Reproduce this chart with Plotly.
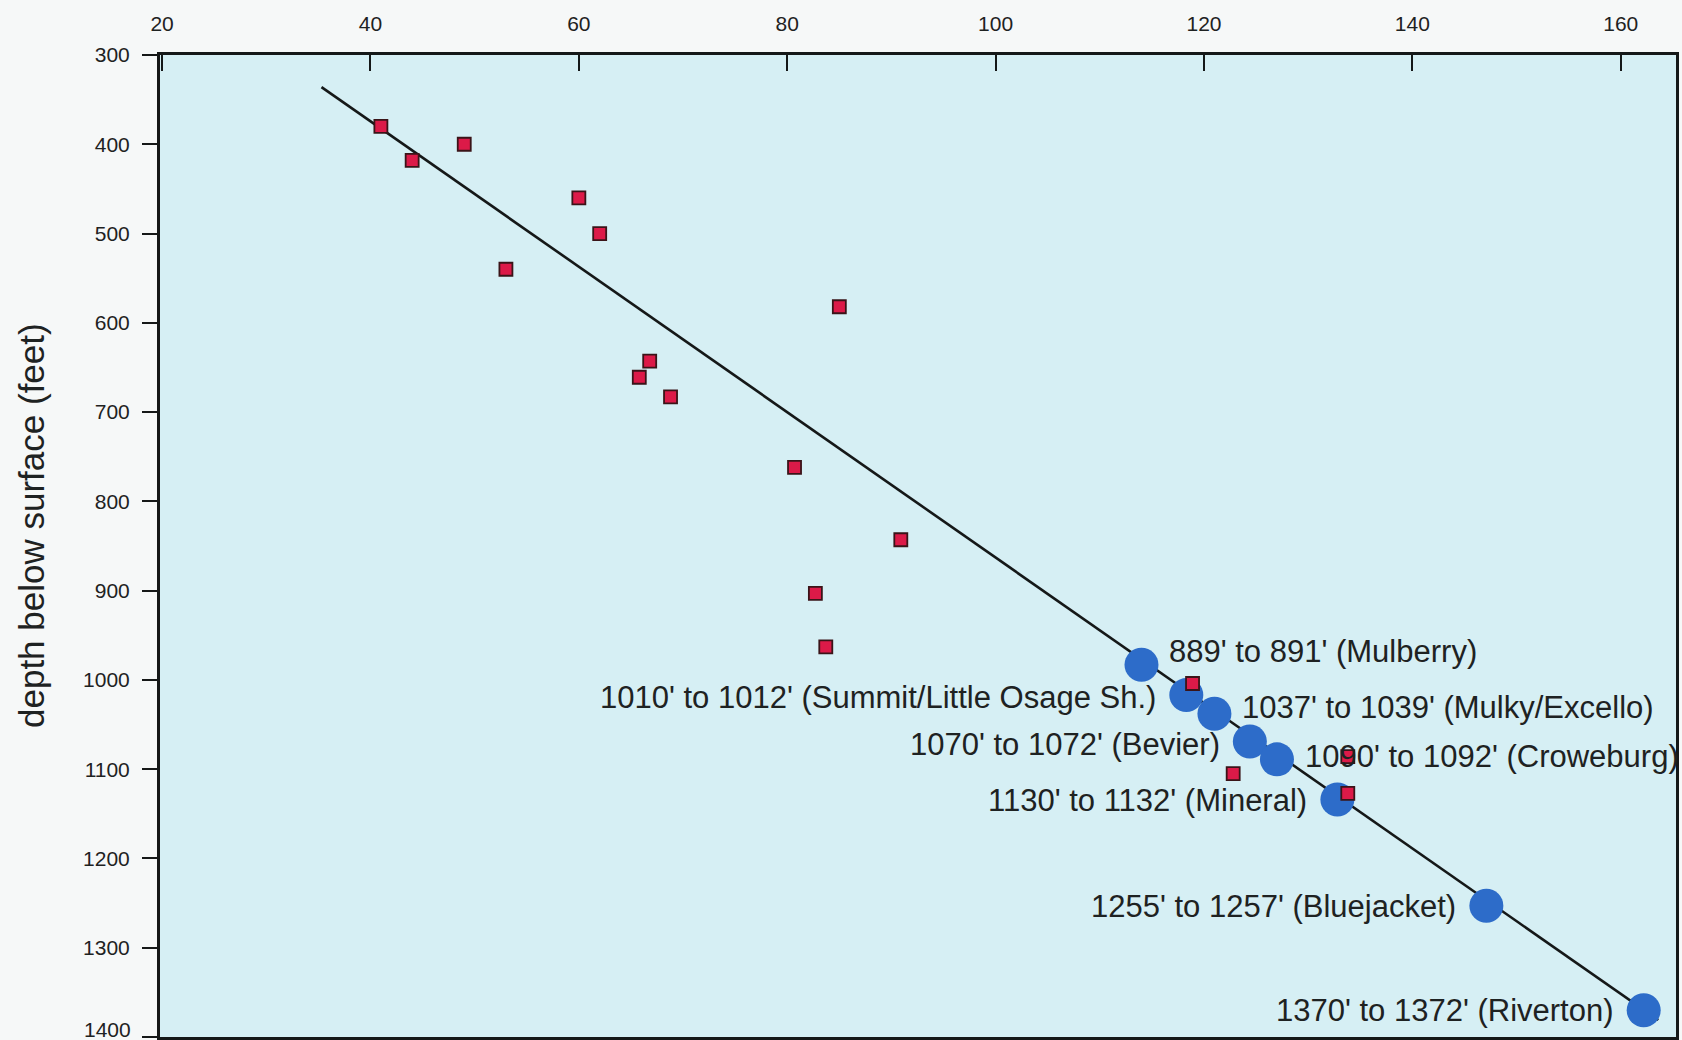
import plotly.graph_objects as go

# ---- data ----
sample_x = [41, 44, 49, 60, 62, 53, 85, 66.8, 65.8, 68.8, 80.7, 90.9, 82.7, 83.7, 118.9, 122.8, 133.8, 133.8]
sample_depth = [380, 418, 400, 460, 500, 540, 582, 643, 661, 683, 762, 843, 903, 963, 1004, 1105, 1086, 1127]

coal_x = [114.0, 118.3, 121.0, 124.4, 127.0, 132.8, 147.1, 162.2]
coal_depth = [983, 1017, 1038, 1069, 1089, 1134, 1253, 1370]
coal_labels = [
    "889' to 891' (Mulberry)",
    "1010' to 1012' (Summit/Little Osage Sh.)",
    "1037' to 1039' (Mulky/Excello)",
    "1070' to 1072' (Bevier)",
    "1090' to 1092' (Croweburg)",
    "1130' to 1132' (Mineral)",
    "1255' to 1257' (Bluejacket)",
    "1370' to 1372' (Riverton)",
]
label_side = ["right", "left", "right", "left", "right", "left", "left", "left"]
label_lift = [13, -2, 6, -3, 3, -1, -1, 0]

trend_x = [35.3, 163.6]
trend_depth = [336, 1381]

x_ticks = [20, 40, 60, 80, 100, 120, 140, 160]
y_ticks = [300, 400, 500, 600, 700, 800, 900, 1000, 1100, 1200, 1300, 1400]
y_tick_labels = [str(v) for v in y_ticks]

FONT = "Liberation Sans, Arial, Helvetica, sans-serif"
TXT = "#1e2222"

fig = go.Figure()

fig.add_trace(go.Scatter(
    x=trend_x, y=trend_depth, mode="lines",
    line=dict(color="#151818", width=2.6), hoverinfo="skip", showlegend=False))

fig.add_trace(go.Scatter(
    x=coal_x, y=coal_depth, mode="markers",
    marker=dict(size=34, color="#2d6cc9", line=dict(width=0)),
    showlegend=False))

fig.add_trace(go.Scatter(
    x=sample_x, y=sample_depth, mode="markers",
    marker=dict(symbol="square", size=13, color="#dc1a48",
                line=dict(color="#3a1418", width=1.8)),
    showlegend=False))

for xv, yv, lab, side, lift in zip(coal_x, coal_depth, coal_labels, label_side, label_lift):
    fig.add_annotation(
        x=xv, y=yv, text=lab, showarrow=False,
        xanchor="left" if side == "right" else "right",
        xshift=26 if side == "right" else -28, yshift=lift,
        font=dict(family=FONT, size=31, color=TXT))

fig.add_annotation(
    xref="paper", yref="paper", x=0, y=0.5, xshift=-129, yshift=20,
    xanchor="center", yanchor="middle",
    text="depth below surface (feet)", textangle=-90, showarrow=False,
    font=dict(family=FONT, size=35, color=TXT))

# the last y tick label sits at the very bottom edge: draw it raised slightly
shown_y_text = y_tick_labels[:-1] + [""]
fig.add_annotation(
    xref="paper", yref="y", x=0, y=y_ticks[-1], xanchor="right", yanchor="middle",
    xshift=-27, yshift=8, text=y_tick_labels[-1], showarrow=False,
    font=dict(family=FONT, size=21, color=TXT))

fig.update_layout(
    width=1682, height=1040,
    margin=dict(l=160, r=6, t=55, b=3, autoexpand=False),
    paper_bgcolor="#f6f8f8",
    plot_bgcolor="#d6eff4",
    font=dict(family=FONT, color=TXT),
)

fig.update_xaxes(
    side="top", range=[19.8, 165.3], tickvals=x_ticks, automargin=False,
    ticks="inside", ticklen=16, tickwidth=2.2, tickcolor="#151818",
    showline=True, linecolor="#151818", linewidth=3, mirror=True,
    showgrid=False, zeroline=False,
    tickfont=dict(family=FONT, size=21, color=TXT), ticklabelstandoff=13)

fig.update_yaxes(
    range=[1400, 300], tickvals=y_ticks, ticktext=shown_y_text, automargin=False,
    ticks="outside", ticklen=15, tickwidth=2.2, tickcolor="#151818",
    showline=True, linecolor="#151818", linewidth=3, mirror=True,
    showgrid=False, zeroline=False,
    tickfont=dict(family=FONT, size=21, color=TXT), ticklabelstandoff=8)

fig.write_html("out.html")
